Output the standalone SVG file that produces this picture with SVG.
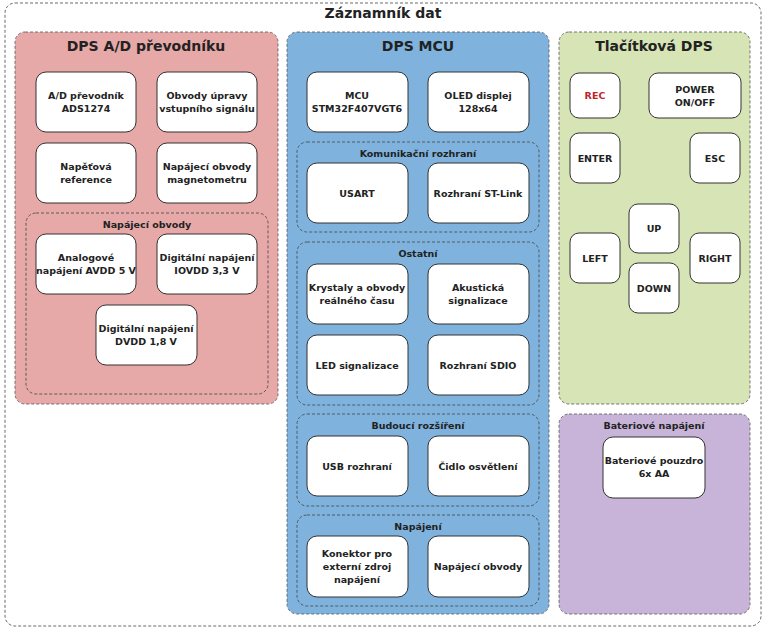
<svg xmlns="http://www.w3.org/2000/svg" width="768" height="633" viewBox="0 0 768 633">
<style>
text{font-family:"DejaVu Sans","Liberation Sans",sans-serif;font-weight:bold;font-size:9.5px;fill:#222;text-anchor:middle}
.t{font-size:14px}
.b{fill:#fff;stroke:#333;stroke-width:1}
.d{fill:none;stroke:#444;stroke-width:0.8;stroke-dasharray:3,2}
.p{stroke:#555;stroke-width:0.8;stroke-dasharray:3,2}
</style>
<rect width="768" height="633" fill="#fff"/>
<g id="outer"><rect x="5" y="3" width="756" height="623" rx="10" class="d"/><text x="383" y="18" class="t">Záznamník dat</text></g>

<g id="ad">
<rect x="15" y="32" width="263" height="372" rx="10" fill="#e7a8a8" class="p"/>
<text x="146" y="51" class="t">DPS A/D převodníku</text>
<g id="ad1"><rect x="36" y="72" width="100" height="60" rx="10" class="b"/><text x="86" y="99">A/D převodník</text><text x="86" y="112">ADS1274</text></g>
<g id="ad2"><rect x="157" y="72" width="100" height="60" rx="10" class="b"/><text x="207" y="99">Obvody úpravy</text><text x="207" y="112">vstupního signálu</text></g>
<g id="ad3"><rect x="36" y="143" width="100" height="60" rx="10" class="b"/><text x="86" y="170">Napěťová</text><text x="86" y="183">reference</text></g>
<g id="ad4"><rect x="157" y="143" width="100" height="60" rx="10" class="b"/><text x="207" y="170">Napájecí obvody</text><text x="207" y="183">magnetometru</text></g>
<rect x="26" y="213" width="242" height="181" rx="10" class="d"/>
<text x="147" y="228">Napájecí obvody</text>
<g id="ad5"><rect x="36" y="234" width="100" height="60" rx="10" class="b"/><text x="86" y="261">Analogové</text><text x="86" y="274">napájení AVDD 5 V</text></g>
<g id="ad6"><rect x="157" y="234" width="100" height="60" rx="10" class="b"/><text x="207" y="261">Digitální napájení</text><text x="207" y="274">IOVDD 3,3 V</text></g>
<g id="ad7"><rect x="96" y="305" width="101" height="60" rx="10" class="b"/><text x="146" y="332">Digitální napájení</text><text x="146" y="345">DVDD 1,8 V</text></g>
</g>

<g id="mcu">
<rect x="287" y="32" width="262" height="582" rx="10" fill="#7fb3dd" class="p"/>
<text x="418" y="51" class="t">DPS MCU</text>
<g id="m1"><rect x="307" y="72" width="101" height="60" rx="10" class="b"/><text x="357" y="99">MCU</text><text x="357" y="112">STM32F407VGT6</text></g>
<g id="m2"><rect x="428" y="72" width="101" height="60" rx="10" class="b"/><text x="478" y="99">OLED displej</text><text x="478" y="112">128x64</text></g>
<rect x="297" y="142" width="242" height="90" rx="10" class="d"/>
<text x="418" y="157">Komunikační rozhraní</text>
<g id="m3"><rect x="307" y="163" width="101" height="60" rx="10" class="b"/><text x="357" y="197">USART</text></g>
<g id="m4"><rect x="428" y="163" width="101" height="60" rx="10" class="b"/><text x="478" y="197">Rozhraní ST-Link</text></g>
<rect x="297" y="242" width="242" height="163" rx="10" class="d"/>
<text x="418" y="257">Ostatní</text>
<g id="m5"><rect x="307" y="264" width="101" height="60" rx="10" class="b"/><text x="357" y="291">Krystaly a obvody</text><text x="357" y="304">reálného času</text></g>
<g id="m6"><rect x="428" y="264" width="101" height="60" rx="10" class="b"/><text x="478" y="291">Akustická</text><text x="478" y="304">signalizace</text></g>
<g id="m7"><rect x="307" y="335" width="101" height="60" rx="10" class="b"/><text x="357" y="369">LED signalizace</text></g>
<g id="m8"><rect x="428" y="335" width="101" height="60" rx="10" class="b"/><text x="478" y="369">Rozhraní SDIO</text></g>
<rect x="297" y="414" width="242" height="92" rx="10" class="d"/>
<text x="418" y="429">Budoucí rozšíření</text>
<g id="m9"><rect x="307" y="436" width="101" height="60" rx="10" class="b"/><text x="357" y="470">USB rozhraní</text></g>
<g id="m10"><rect x="428" y="436" width="101" height="60" rx="10" class="b"/><text x="478" y="470">Čidlo osvětlení</text></g>
<rect x="297" y="515" width="242" height="91" rx="10" class="d"/>
<text x="418" y="530">Napájení</text>
<g id="m11"><rect x="307" y="536" width="101" height="61" rx="10" class="b"/><text x="357" y="557">Konektor pro</text><text x="357" y="570">externí zdroj</text><text x="357" y="583">napájení</text></g>
<g id="m12"><rect x="428" y="536" width="101" height="61" rx="10" class="b"/><text x="478" y="570">Napájecí obvody</text></g>
</g>

<g id="btn">
<rect x="559" y="32" width="191" height="372" rx="10" fill="#d6e4b6" class="p"/>
<text x="654" y="51" class="t">Tlačítková DPS</text>
<g id="b1"><rect x="570" y="73" width="50" height="45" rx="9" class="b"/><text x="595" y="99" style="fill:#c0232b">REC</text></g>
<g id="b2"><rect x="649" y="73" width="92" height="45" rx="9" class="b"/><text x="695" y="93">POWER</text><text x="695" y="106">ON/OFF</text></g>
<g id="b3"><rect x="570" y="133" width="50" height="50" rx="9" class="b"/><text x="595" y="162">ENTER</text></g>
<g id="b4"><rect x="690" y="133" width="50" height="50" rx="9" class="b"/><text x="715" y="162">ESC</text></g>
<g id="b5"><rect x="629" y="204" width="50" height="49" rx="9" class="b"/><text x="654" y="232">UP</text></g>
<g id="b6"><rect x="570" y="233" width="50" height="50" rx="9" class="b"/><text x="595" y="262">LEFT</text></g>
<g id="b7"><rect x="690" y="233" width="50" height="50" rx="9" class="b"/><text x="715" y="262">RIGHT</text></g>
<g id="b8"><rect x="629" y="263" width="50" height="50" rx="9" class="b"/><text x="654" y="292">DOWN</text></g>
</g>

<g id="bat">
<rect x="559" y="414" width="191" height="200" rx="10" fill="#c9b4d9" class="p"/>
<text x="654" y="429">Bateriové napájení</text>
<g id="bat1"><rect x="603" y="437" width="102" height="61" rx="10" class="b"/><text x="654" y="464">Bateriové pouzdro</text><text x="654" y="477">6x AA</text></g>
</g>
<g id="connectors"/>
</svg>
